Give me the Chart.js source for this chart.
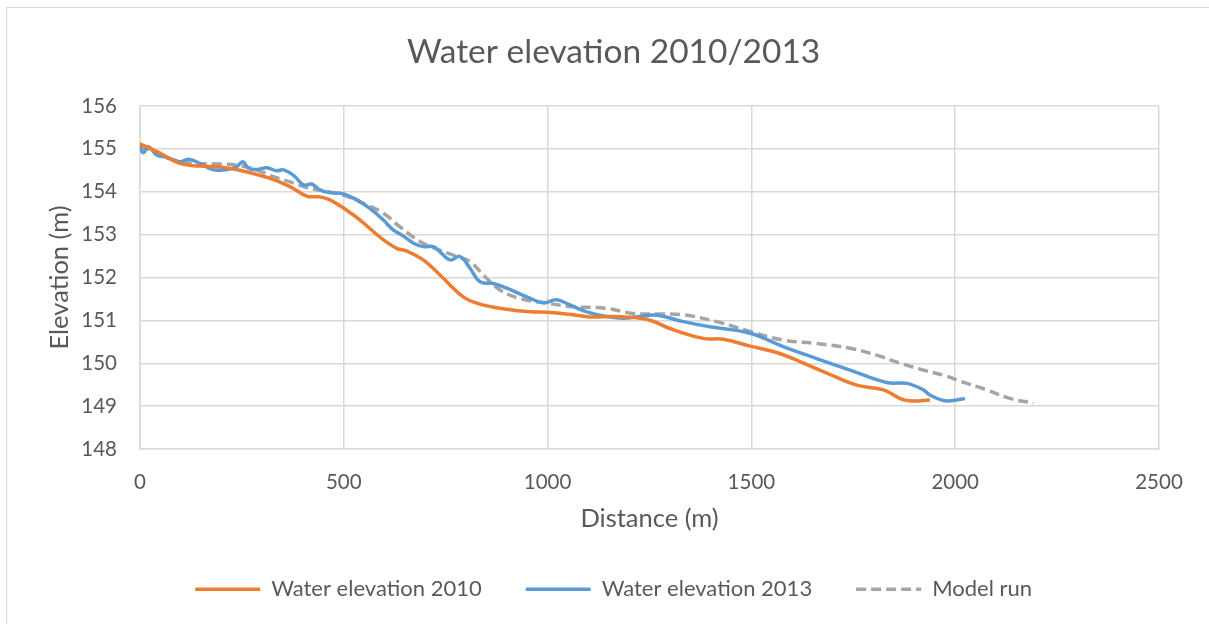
<!DOCTYPE html>
<html>
<head>
<meta charset="utf-8">
<script src="https://cdn.jsdelivr.net/npm/chart.js@4/dist/chart.umd.min.js"></script>
<style>
  html, body { margin: 0; padding: 0; background: #fff; }
  #wrap { position: relative; width: 1209px; height: 624px; overflow: hidden; }
  #frame { position: absolute; left: 6px; top: 7px; width: 1300px; height: 700px; border: 1.5px solid #d9d9d9; box-sizing: border-box; }
  canvas { position: absolute; left: 0; top: 0; }
</style>
</head>
<body>
<div id="wrap">
  <div id="frame"></div>
  <canvas id="c" width="1209" height="624"></canvas>
</div>
<script>
// Distance (m) / elevation (m)
const dist2010 = [0, 49, 98, 147, 196, 245, 319, 368, 409, 442, 466, 507, 540, 589, 630, 654, 695, 736, 793, 834, 900, 957, 998, 1063, 1104, 1161, 1227, 1259, 1300, 1382, 1431, 1497, 1562, 1619, 1685, 1758, 1824, 1877, 1938];
const elev2010 = [155.12, 154.9, 154.66, 154.6, 154.58, 154.5, 154.31, 154.12, 153.9, 153.88, 153.81, 153.57, 153.34, 152.94, 152.68, 152.62, 152.41, 152.06, 151.55, 151.38, 151.26, 151.2, 151.19, 151.13, 151.08, 151.09, 151.05, 150.98, 150.81, 150.58, 150.56, 150.4, 150.25, 150.04, 149.77, 149.49, 149.38, 149.14, 149.14];

const dist2013 = [0, 8, 20, 41, 65, 98, 119, 147, 180, 213, 237, 252, 266, 286, 311, 335, 352, 376, 401, 421, 442, 466, 499, 532, 564, 597, 621, 646, 671, 695, 720, 736, 761, 785, 810, 834, 867, 900, 949, 989, 1022, 1055, 1096, 1145, 1186, 1227, 1268, 1333, 1398, 1497, 1578, 1660, 1742, 1832, 1881, 1922, 1938, 1971, 1995, 2024];
const elev2013 = [155.05, 154.91, 155.05, 154.86, 154.8, 154.7, 154.76, 154.66, 154.51, 154.52, 154.58, 154.7, 154.55, 154.52, 154.56, 154.49, 154.51, 154.39, 154.16, 154.18, 154.04, 153.98, 153.95, 153.81, 153.61, 153.34, 153.11, 152.97, 152.8, 152.72, 152.72, 152.6, 152.41, 152.49, 152.21, 151.9, 151.86, 151.75, 151.55, 151.41, 151.48, 151.36, 151.2, 151.09, 151.05, 151.09, 151.12, 150.97, 150.85, 150.7, 150.39, 150.11, 149.84, 149.55, 149.53, 149.38, 149.26, 149.13, 149.13, 149.18];

const distModel = [0, 41, 82, 131, 188, 237, 286, 327, 368, 409, 450, 499, 548, 597, 638, 695, 777, 810, 842, 883, 932, 998, 1063, 1145, 1210, 1276, 1333, 1415, 1497, 1578, 1660, 1742, 1807, 1865, 1922, 1979, 2004, 2077, 2134, 2192];
const elevModel = [155.07, 154.91, 154.74, 154.66, 154.65, 154.62, 154.51, 154.35, 154.23, 154.1, 154.02, 153.92, 153.73, 153.5, 153.18, 152.8, 152.49, 152.37, 152.06, 151.71, 151.51, 151.4, 151.32, 151.28, 151.16, 151.15, 151.13, 150.97, 150.74, 150.54, 150.46, 150.35, 150.19, 150.0, 149.84, 149.7, 149.61, 149.38, 149.18, 149.07];

const seriesNames = ['Water elevation 2010', 'Water elevation 2013', 'Model run'];
const xTicks = [0, 500, 1000, 1500, 2000, 2500];
const yTicks = [148, 149, 150, 151, 152, 153, 154, 155, 156];

const pts = (xs, ys) => xs.map((x, i) => ({x: x, y: ys[i]}));
const FONT = 'Lato';
const TXT = '#595959';
const GRID = '#d9d9d9';

const datasets = [
  {label: seriesNames[0], data: pts(dist2010, elev2010), borderColor: '#ED7D31', borderWidth: 3.5},
  {label: seriesNames[1], data: pts(dist2013, elev2013), borderColor: '#5B9BD5', borderWidth: 3.5},
  {label: seriesNames[2], data: pts(distModel, elevModel), borderColor: '#A5A5A5', borderWidth: 3.5, borderDash: [10, 5]}
].map(d => Object.assign(d, {pointRadius: 0, tension: 0.4, fill: false, backgroundColor: d.borderColor}));

new Chart(document.getElementById('c'), {
  type: 'line',
  data: {datasets},
  options: {
    responsive: false,
    animation: false,
    devicePixelRatio: 1,
    layout: {padding: {left: 68.2, right: 50, top: 0, bottom: 13.7}},
    plugins: {
      title: {display: true, text: 'Water elevation 2010/2013', color: TXT,
        font: {family: FONT, size: 33.5, weight: 'normal'}, padding: {top: 32, bottom: 33.8}},
      legend: {position: 'bottom',
        labels: {
          color: TXT, font: {family: FONT, size: 22}, padding: 44,
          usePointStyle: true, pointStyleWidth: 65, boxHeight: 22,
          generateLabels: (chart) => chart.data.datasets.map((d, i) => ({
            text: d.label, strokeStyle: d.borderColor, fillStyle: d.borderColor,
            lineWidth: 3.5, lineDash: d.borderDash || [], pointStyle: 'line',
            datasetIndex: i, fontColor: TXT
          }))
        }},
      tooltip: {enabled: false}
    },
    scales: {
      x: {type: 'linear', min: 0, max: 2500,
        afterBuildTicks: (s) => { s.ticks = xTicks.map(v => ({value: v})); },
        afterFit: (s) => { s.height = 85.3; },
        ticks: {color: TXT, font: {family: FONT, size: 20.5}, padding: 21, maxRotation: 0,
          callback: (v) => String(v)},
        grid: {color: GRID, drawTicks: false, lineWidth: 1.5},
        border: {color: GRID, width: 1.5},
        title: {display: true, text: 'Distance (m)', color: TXT, font: {family: FONT, size: 25.5}, padding: 0}
      },
      y: {type: 'linear', min: 148, max: 156,
        afterBuildTicks: (s) => { s.ticks = yTicks.map(v => ({value: v})); },
        afterFit: (s) => { s.width = 71.8; },
        ticks: {color: TXT, font: {family: FONT, size: 20.5}, padding: 23,
          callback: (v) => String(v)},
        grid: {color: GRID, drawTicks: false, lineWidth: 1.5},
        border: {color: GRID, width: 1.5},
        title: {display: true, text: 'Elevation (m)', color: TXT, font: {family: FONT, size: 25.5},
          padding: {top: -24, bottom: 0}}
      }
    }
  }
});
</script>
</body>
</html>
